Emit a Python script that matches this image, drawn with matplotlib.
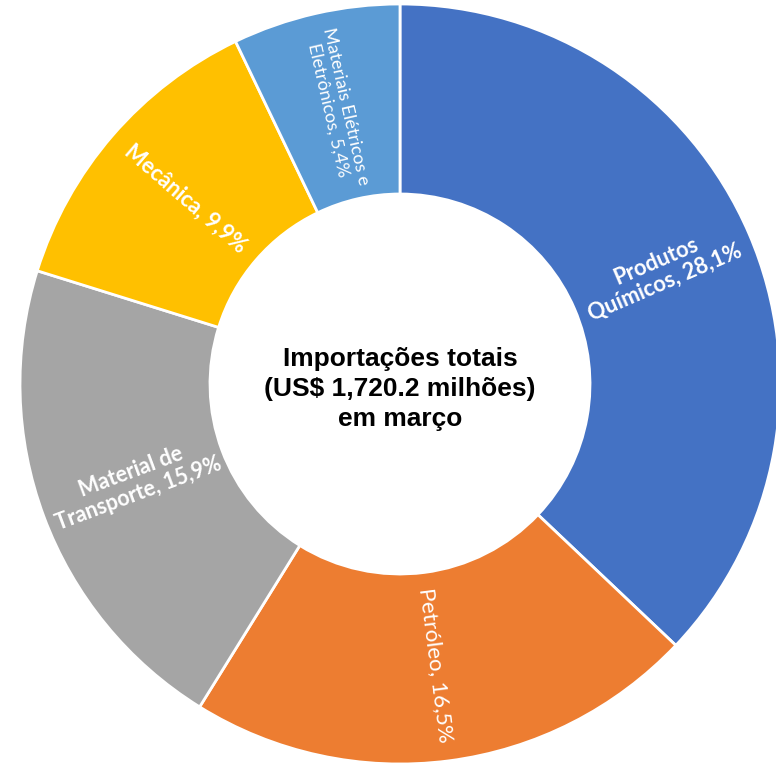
import matplotlib
matplotlib.use("Agg")
import matplotlib.pyplot as plt
import numpy as np

categories = ["Produtos\nQuímicos, 28,1%", "Petróleo, 16,5%", "Material de\nTransporte, 15,9%",
              "Mecânica, 9,9%", "Materiais Elétricos e\nEletrônicos, 5,4%"]
values = [28.1, 16.5, 15.9, 9.9, 5.4]
colors = ["#4472C4", "#ED7D31", "#A5A5A5", "#FFC000", "#5B9BD5"]
weights = ["bold", "normal", "bold", "bold", "normal"]
sizes = [15.8, 16.0, 15.5, 15.8, 13.0]
center_text = "Importações totais\n(US$ 1,720.2 milhões)\nem março"

W, H = 776, 766
fig = plt.figure(figsize=(W / 100, H / 100), dpi=100)
ax = fig.add_axes([0, 0, 1, 1])
cx, cy = 400, 384
R = 380

wedges, _ = ax.pie(values, radius=R, colors=colors, startangle=90, counterclock=False,
                   wedgeprops=dict(width=R * 0.5, edgecolor="white", linewidth=2.0))
ax.set_xlim(-cx, W - cx)
ax.set_ylim(-(H - cy), cy)
ax.set_aspect("equal")
ax.axis("off")

total = sum(values)
cum = 0
for lab, v, w, fs in zip(categories, values, weights, sizes):
    mid = (cum + v / 2) / total
    cum += v
    ang = 90 - mid * 360  # math angle, degrees
    rad = np.deg2rad(ang)
    r = R * 0.745
    x, y = r * np.cos(rad), r * np.sin(rad)
    a = ((ang + 180) % 360) - 180
    if a > 90:
        rot = a - 180
    elif a < -90:
        rot = a + 180
    else:
        rot = a
    ax.text(x, y, lab, rotation=rot, rotation_mode="anchor", ha="center", va="center",
            color="white", fontsize=fs, fontweight=w, family=["Lato", "DejaVu Sans"],
            linespacing=1.1)

ax.text(0, -5, center_text, ha="center", va="center", fontsize=19, fontweight="bold",
        family=["Liberation Sans", "DejaVu Sans"], linespacing=1.3, color="black")

fig.savefig("out.png", dpi=100)
